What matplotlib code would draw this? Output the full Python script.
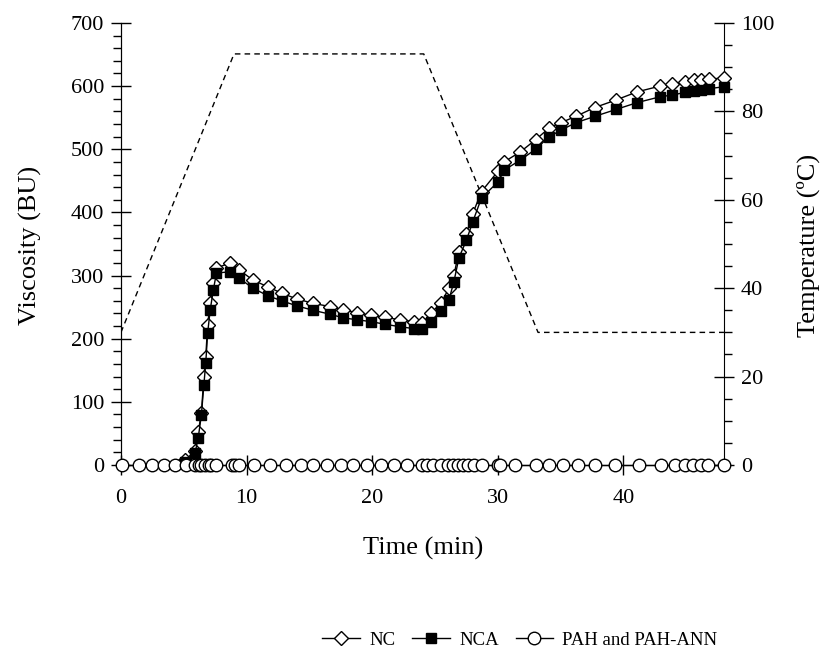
import matplotlib
matplotlib.use("Agg")
import matplotlib.pyplot as plt
from matplotlib.ticker import MultipleLocator

plt.rcParams['font.family'] = ['Liberation Serif', 'DejaVu Serif']

# Temperature profile (min, degC)
temp_t = [0, 9, 24.1, 33.2, 48]
temp_v = [30, 93, 93, 30, 30]

# NC (open diamonds)
nc_t = [5.1, 5.9, 6.15, 6.4, 6.6, 6.75, 6.9, 7.1, 7.35, 7.6, 8.7, 9.4, 10.5,
        11.7, 12.8, 14.0, 15.3, 16.6, 17.7, 18.8, 19.9, 21.0, 22.2, 23.3, 24.0,
        24.7, 25.5, 26.1, 26.5, 26.9, 27.5, 28.0, 28.7, 30.0, 30.5, 31.8, 33.0,
        34.1, 35.0, 36.2, 37.7, 39.4, 41.1, 42.9, 43.9, 44.9, 45.6, 46.2, 46.8, 48.0]
nc_v = [8, 22, 52, 82, 139, 171, 222, 257, 288, 312, 320, 309, 293,
        282, 272, 263, 256, 251, 246, 241, 237, 234, 230, 227, 225,
        241, 257, 280, 300, 338, 366, 398, 433, 465, 480, 496, 515,
        534, 542, 552, 566, 578, 591, 600, 604, 607, 609, 610, 611, 613]

# NCA (filled squares)
nca_t = [5.1, 5.9, 6.15, 6.4, 6.6, 6.75, 6.9, 7.1, 7.35, 7.6, 8.7, 9.4, 10.5,
         11.7, 12.8, 14.0, 15.3, 16.6, 17.7, 18.8, 19.9, 21.0, 22.2, 23.3, 24.0,
         24.7, 25.5, 26.1, 26.5, 26.9, 27.5, 28.0, 28.7, 30.0, 30.5, 31.8, 33.0,
         34.1, 35.0, 36.2, 37.7, 39.4, 41.1, 42.9, 43.9, 44.9, 45.6, 46.2, 46.8, 48.0]
nca_v = [5, 19, 43, 79, 127, 162, 209, 245, 277, 304, 306, 296, 280,
         268, 260, 252, 245, 239, 233, 230, 227, 223, 219, 216, 215,
         227, 244, 261, 290, 328, 356, 385, 423, 448, 467, 483, 500,
         520, 530, 542, 552, 563, 574, 583, 586, 590, 593, 594, 596, 599]

# PAH and PAH-ANN (open circles, all zero)
pah_t = [0.05, 1.4, 2.45, 3.4, 4.3, 5.2, 5.9, 6.2, 6.4, 6.7, 7.0, 7.2, 7.6,
         8.8, 9.1, 9.4, 10.6, 11.9, 13.1, 14.3, 15.3, 16.4, 17.5, 18.5, 19.6,
         20.7, 21.7, 22.8, 24.0, 24.4, 24.8, 25.5, 26.0, 26.4, 26.8, 27.2, 27.6,
         28.1, 28.7, 30.0, 30.2, 31.4, 33.0, 34.1, 35.2, 36.4, 37.7, 39.3, 41.2,
         43.0, 44.1, 44.9, 45.5, 46.2, 46.7, 48.0]
pah_v = [0] * len(pah_t)

fig = plt.figure(figsize=(8.24, 6.68), dpi=100)
ax = fig.add_axes([0.1468, 0.3039, 0.7318, 0.6617])
ax2 = ax.twinx()

ax2.plot(temp_t, temp_v, color='black', lw=1.0, ls=(0, (4, 3)))

l1, = ax.plot(nc_t, nc_v, color='black', lw=1.0, marker='D', ms=7.5,
              mfc='white', mec='black', mew=1.0, label='NC', zorder=3,
              clip_on=False)
l2, = ax.plot(nca_t, nca_v, color='black', lw=1.0, marker='s', ms=7,
              mfc='black', mec='black', label='NCA', zorder=4, clip_on=False)
l3, = ax.plot(pah_t, pah_v, color='black', lw=1.0, marker='o', ms=9,
              mfc='white', mec='black', mew=1.0, label='PAH and PAH-ANN',
              zorder=5, clip_on=False)

ax.set_xlim(0, 48)
ax.set_ylim(0, 700)
ax2.set_ylim(0, 100)
ax.set_zorder(ax2.get_zorder() + 1)
ax.patch.set_visible(False)

for a in (ax, ax2):
    a.spines['top'].set_visible(False)
ax.spines['right'].set_visible(False)

ax.xaxis.set_major_locator(MultipleLocator(10))
ax.yaxis.set_major_locator(MultipleLocator(100))
ax.yaxis.set_minor_locator(MultipleLocator(20))
ax2.yaxis.set_major_locator(MultipleLocator(20))
ax2.yaxis.set_minor_locator(MultipleLocator(5))

FS = 16
LFS = 19
ax.tick_params(axis='both', which='major', direction='inout', length=14,
               width=1.0, labelsize=FS, pad=5)
ax.tick_params(axis='y', which='minor', direction='out', length=6, width=1.0)
ax2.tick_params(axis='y', which='major', direction='inout', length=14,
                width=1.0, labelsize=FS, pad=5)
ax2.tick_params(axis='y', which='minor', direction='out', length=6, width=1.0)
ax.tick_params(axis='x', which='major', pad=10)

fig.text(423 / 824, 1 - 548 / 668, 'Time (min)', fontsize=LFS,
         ha='center', va='center')
fig.text(30 / 824, 1 - 245 / 668, 'Viscosity (BU)', fontsize=LFS,
         rotation=90, ha='center', va='center')
fig.text(808 / 824, 1 - 245 / 668, 'Temperature (ºC)', fontsize=LFS,
         rotation=90, ha='center', va='center')

fig.legend(handles=[l1, l2, l3], loc='center',
           bbox_to_anchor=(520 / 824, 1 - 640 / 668), ncol=3, frameon=False,
           fontsize=13.5, handlelength=2.0, handletextpad=0.5,
           columnspacing=0.9)

fig.savefig('out.png', dpi=100)
